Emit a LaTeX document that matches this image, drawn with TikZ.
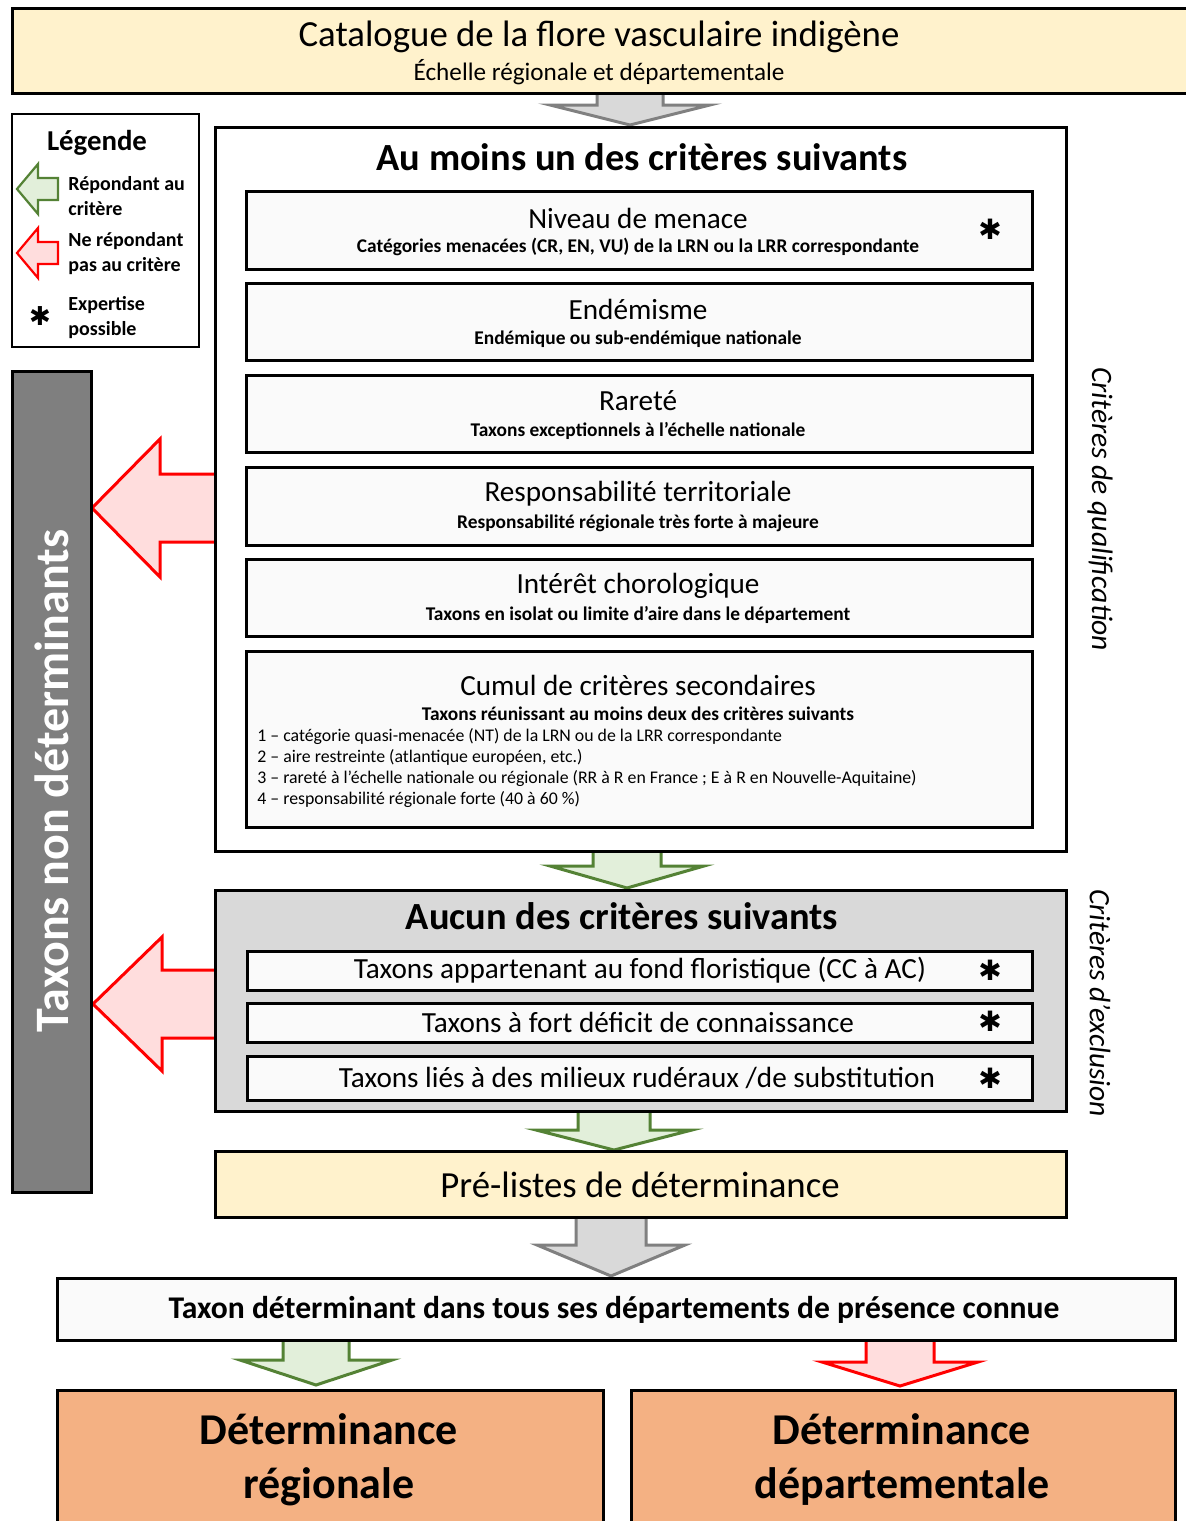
\documentclass[tikz,border=0pt]{standalone}
\usepackage{fontspec}
\setmainfont{Carlito}
\newfontfamily\symfont{DejaVu Sans}
\usetikzlibrary{fit}

\definecolor{paleyellow}{HTML}{FFF2CC}
\definecolor{palegreen}{HTML}{E2EFDA}
\definecolor{darkgreen}{HTML}{548235}
\definecolor{palered}{HTML}{FFDDDD}
\definecolor{palegray}{HTML}{D9D9D9}
\definecolor{midgray}{HTML}{7F7F7F}
\definecolor{salmon}{HTML}{F4B183}
\definecolor{offwhite}{HTML}{FAFAFA}

\tikzset{
  box/.style={draw=black, line width=1.5pt, inner sep=0pt, fill=offwhite},
  greenarrow/.style={draw=darkgreen, fill=palegreen, line width=1.5pt},
  redarrow/.style={draw=red, fill=palered, line width=1.5pt},
  grayarrow/.style={draw=gray, fill=palegray, line width=1.5pt},
  txt/.style={inner sep=0pt},
  bigtitle/.style={txt, font=\fontsize{19.2}{22}\selectfont\bfseries},
  crittitle/.style={txt, font=\fontsize{14.6}{17}\selectfont},
  critsub/.style={txt, font=\fontsize{9.7}{11}\selectfont\bfseries},
  exclitem/.style={txt, font=\fontsize{14.6}{17}\selectfont},
  legitem/.style={txt, anchor=west, align=left, font=\fontsize{10}{12.5}\selectfont\bfseries},
  sidetext/.style={txt, rotate=-90, font=\fontsize{14.8}{17}\selectfont\itshape},
  star/.style={txt, font=\symfont\fontsize{14}{14}\selectfont},
}

% block arrows : style, centre, start, head, tip, half shaft, half head
\newcommand{\arrowdown}[7]{%
  \draw[#1] ({#2-#6},#3) -- ({#2-#6},#4) -- ({#2-#7},#4) -- (#2,#5) -- ({#2+#7},#4) -- ({#2+#6},#4) -- ({#2+#6},#3) -- cycle;}
\newcommand{\arrowleft}[7]{%
  \draw[#1] (#3,{#2-#6}) -- (#4,{#2-#6}) -- (#4,{#2-#7}) -- (#5,#2) -- (#4,{#2+#7}) -- (#4,{#2+#6}) -- (#3,{#2+#6}) -- cycle;}

\begin{document}
\begin{tikzpicture}[x=0.5pt,y=0.5pt,yscale=-1,xscale=1]
\useasboundingbox (0,0) rectangle (1186,1521);
\clip (0,0) rectangle (1186,1521);

%Arrows between the blocks
\arrowdown{grayarrow}{630}{85}{105}{125}{33}{80}
\arrowdown{greenarrow}{627}{845}{866}{888}{34}{77}
\arrowdown{greenarrow}{614}{1105}{1130}{1150}{36}{78}
\arrowdown{grayarrow}{611}{1212}{1245}{1276}{35}{74}
\arrowdown{greenarrow}{316}{1335}{1360}{1385}{33}{76}
\arrowdown{redarrow}{900}{1335}{1362}{1386}{34}{78}
\arrowleft{redarrow}{508}{222}{160}{92}{34}{69}
\arrowleft{redarrow}{1004}{222}{162}{93}{34}{67}

%Catalogue
\node[box, fill=paleyellow, fit={(12,8) (1200,93)}] (catalogue) {};
\node[txt, font=\fontsize{18.4}{21}\selectfont] (catTitle) at (599,37) {Catalogue de la flore vasculaire indigène};
\node[txt, font=\fontsize{12.6}{15}\selectfont] (catSub) at (599,72) {Échelle régionale et départementale};

%Legend
\node[box, fill=white, line width=0.8pt, fit={(12,114) (199,347)}] (legende) {};
\node[txt, font=\fontsize{14.4}{17}\selectfont\bfseries] (legTitle) at (97,143) {Légende};
\arrowleft{greenarrow, line width=1.1pt}{189}{58}{38}{17}{11}{25}
\arrowleft{redarrow, line width=1.1pt}{253}{58}{38}{17}{11}{25}
\node[legitem] (legOui) at (68,196) {Répondant au\\critère};
\node[legitem] (legNon) at (68,254) {Ne répondant\\pas au critère};
\node[star, font=\symfont\fontsize{13}{13}\selectfont] (legStar) at (40,316) {✱};
\node[legitem] (legExp) at (68,318) {Expertise\\possible};

%Non determinants
\node[box, fill=midgray, fit={(12,371) (91,1192)}] (nonDet) {};
\node[txt, rotate=90, text=white, font=\fontsize{24}{28}\selectfont\bfseries] (nonDetText) at (52,781) {Taxons non déterminants};

%Qualification
\node[box, fill=white, fit={(215,127) (1066,851)}] (auMoins) {};
\node[bigtitle] (auMoinsTitle) at (642,157) {Au moins un des critères suivants};

\node[box, fit={(246,191) (1032,269)}] (menace) {};
\node[crittitle] at (638,218) {Niveau de menace};
\node[critsub] at (638,247) {Catégories menacées (CR, EN, VU) de la LRN ou la LRR correspondante};
\node[star] (starMenace) at (990,229) {✱};

\node[box, fit={(246,283) (1032,360)}] (endemisme) {};
\node[crittitle] at (638,309) {Endémisme};
\node[critsub] at (638,339) {Endémique ou sub-endémique nationale};

\node[box, fit={(246,375) (1032,452)}] (rarete) {};
\node[crittitle] at (638,401) {Rareté};
\node[critsub] at (638,431) {Taxons exceptionnels à l’échelle nationale};

\node[box, fit={(246,467) (1032,545)}] (responsabilite) {};
\node[crittitle] at (638,494) {Responsabilité territoriale};
\node[critsub] at (638,523) {Responsabilité régionale très forte à majeure};

\node[box, fit={(246,559) (1032,636)}] (chorologie) {};
\node[crittitle] at (638,586) {Intérêt chorologique};
\node[critsub] at (638,615) {Taxons en isolat ou limite d’aire dans le département};

\node[box, fit={(246,651) (1032,827)}] (cumul) {};
\node[crittitle] at (638,685) {Cumul de critères secondaires};
\node[critsub] at (638,714) {Taxons réunissant au moins deux des critères suivants};
\foreach \y/\t in {737/{1 – catégorie quasi-menacée (NT) de la LRN ou de la LRR correspondante},
                   757/{2 – aire restreinte (atlantique européen, etc.)},
                   779/{3 – rareté à l’échelle nationale ou régionale (RR à R en France ; E à R en Nouvelle-Aquitaine)},
                   800/{4 – responsabilité régionale forte (40 à 60 \%)}}
  \node[txt, anchor=west, font=\fontsize{8.9}{10}\selectfont] at (257,\y) {\t};

\node[sidetext] (qualif) at (1100,509) {Critères de qualification};

%Exclusion
\node[box, fill=palegray, fit={(215,890) (1066,1111)}] (aucun) {};
\node[bigtitle] (aucunTitle) at (622,916) {Aucun des critères suivants};
\node[box, fit={(247,951) (1032,990)}] (fond) {};
\node[exclitem] at (640,970) {Taxons appartenant au fond floristique (CC à AC)};
\node[star] at (990,970) {✱};
\node[box, fit={(247,1003) (1032,1042)}] (deficit) {};
\node[exclitem] at (638,1022) {Taxons à fort déficit de connaissance};
\node[star] at (990,1021) {✱};
\node[box, fit={(247,1056) (1032,1100)}] (ruderaux) {};
\node[exclitem] at (637,1078) {Taxons liés à des milieux rudéraux /de substitution};
\node[star] at (990,1078) {✱};

\node[sidetext] (exclu) at (1100,1003) {Critères d’exclusion};

%Pre-listes
\node[box, fill=paleyellow, fit={(215,1151) (1066,1217)}] (prelistes) {};
\node[txt, font=\fontsize{18.4}{21}\selectfont] at (640,1185) {Pré-listes de déterminance};

\node[box, fit={(57,1278) (1175,1340)}] (taxonDet) {};
\node[txt, font=\fontsize{15.8}{18}\selectfont\bfseries] at (614,1310) {Taxon déterminant dans tous ses départements de présence connue};

%Determinance
\node[box, fill=salmon, fit={(57,1390) (603,1540)}] (regionale) {};
\node[txt, align=center, font=\fontsize{22}{27}\selectfont\bfseries] at (329,1460) {Déterminance\\régionale};
\node[box, fill=salmon, fit={(631,1390) (1175,1540)}] (departementale) {};
\node[txt, align=center, font=\fontsize{22}{27}\selectfont\bfseries] at (902,1460) {Déterminance\\départementale};

\end{tikzpicture}
\end{document}
